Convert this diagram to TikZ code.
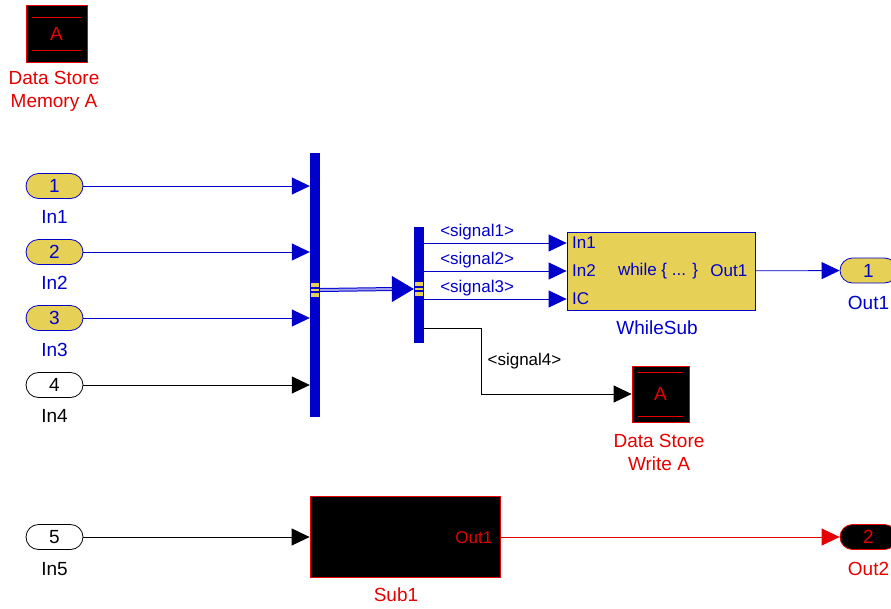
\documentclass[tikz,border=0pt]{standalone}
\usepackage{fontspec}
\setmainfont{Liberation Sans}
\usetikzlibrary{positioning, arrows.meta}
\definecolor{simblue}{HTML}{0000CC}
\definecolor{simyellow}{HTML}{E6D055}
\definecolor{simred}{HTML}{E60000}
\definecolor{busmid}{HTML}{A0A0EC}
\tikzset{
  >={Triangle[length=18pt, width=17pt]},
  every node/.style={font=\fontsize{19}{23}\selectfont, inner sep=0pt},
  port/.style={
    rectangle, rounded corners=12.5pt, line width=0.8pt,
    minimum width=57pt, minimum height=25pt
  },
  inport/.style={port, draw=simblue, fill=simyellow, text=simblue},
  plainport/.style={port, draw=black, fill=white},
  outport/.style={port, draw=simred, fill=black, text=simred},
  busbar/.style={rectangle, fill=simblue, minimum width=10pt},
  busport/.style={
    rectangle, fill=simyellow, minimum width=8pt, minimum height=14pt,
    path picture={
      \draw[simblue, line width=1.2pt]
        ([yshift=2pt]path picture bounding box.west) -- ([yshift=2pt]path picture bounding box.east)
        ([yshift=-2pt]path picture bounding box.west) -- ([yshift=-2pt]path picture bounding box.east);
    }
  },
  dstore/.style={
    rectangle, draw=simred, fill=black, text=simred, line width=0.8pt,
    minimum width=57pt, minimum height=56pt,
    path picture={
      \draw[simred, line width=0.8pt]
        ([xshift=6pt, yshift=-#1]path picture bounding box.north west) -- ([xshift=-6pt, yshift=-#1]path picture bounding box.north east)
        ([xshift=6pt, yshift=#1]path picture bounding box.south west) -- ([xshift=-6pt, yshift=#1]path picture bounding box.south east);
    }
  },
  whileblock/.style={
    rectangle, draw=simblue, fill=simyellow, line width=0.8pt,
    minimum width=188pt, minimum height=78pt
  },
  subblock/.style={
    rectangle, draw=simred, fill=black, line width=0.8pt,
    minimum width=190pt, minimum height=81pt
  },
  porttext/.style={font=\fontsize{17}{20}\selectfont},
  bluelabel/.style={text=simblue, align=center},
  blacklabel/.style={text=black, align=center},
  redlabel/.style={text=simred, align=center},
  sigblue/.style={->, simblue, line width=0.8pt},
  sigblack/.style={->, black, line width=0.8pt},
  sigred/.style={->, simred, line width=0.8pt},
  busline/.style={draw=simblue, double=busmid, double distance=2pt, line width=1pt},
  bustip/.style={-{Triangle[length=22pt, width=26pt]}, simblue, line width=1pt},
  siglabel/.style={font=\fontsize{17}{20}\selectfont}
}

\begin{document}
\begin{tikzpicture}[x=1pt, y=-1pt]
\useasboundingbox (0,0) rectangle (891,608);

% Column and row positions (pixels)
\def\xin{54.5}   % inports
\def\xbc{315}    % bus creator
\def\xbs{419}    % bus selector
\def\xout{868.5} % outports
\def\yA{186} \def\yB{252} \def\yC{318} \def\yD{385} \def\yE{537}
\def\ysa{243} \def\ysb{271} \def\ysc{299} \def\ysd{328}

% Data store memory
\node[dstore=12pt, minimum width=61pt, minimum height=57pt] (dsm) at (56.5,33.5) {A};
\node[redlabel] (dsmlab) at (54,91.5) {Data Store\\Memory A};

% Inports
\node[inport] (in1) at (\xin,\yA) {1};
\node[inport] (in2) at (\xin,\yB) {2};
\node[inport] (in3) at (\xin,\yC) {3};
\node[plainport] (in4) at (\xin,\yD) {4};
\node[plainport] (in5) at (\xin,\yE) {5};
\node[bluelabel] (in1lab) at (\xin,217) {In1};
\node[bluelabel] (in2lab) at (\xin,283) {In2};
\node[bluelabel] (in3lab) at (\xin,350) {In3};
\node[blacklabel] (in4lab) at (\xin,416) {In4};
\node[blacklabel] (in5lab) at (\xin,569) {In5};

% Bus creator and bus selector
\node[busbar, minimum height=264pt] (bc) at (\xbc,285) {};
\node[busport] (bcp) at (\xbc,290) {};
\node[busbar, minimum height=116pt] (bs) at (\xbs,285) {};
\node[busport] (bsp) at (\xbs,289) {};

\draw[sigblue] (in1) -- (in1 -| bc.west);
\draw[sigblue] (in2) -- (in2 -| bc.west);
\draw[sigblue] (in3) -- (in3 -| bc.west);
\draw[sigblack] (in4) -- (in4 -| bc.west);

% Bus between the two bars
\draw[busline] (bc.east |- bcp) -- ([xshift=-20pt]bs.west |- bsp);
\draw[bustip] ([xshift=-22pt]bs.west |- bsp) -- (bs.west |- bsp);

% While subsystem
\node[whileblock] (ws) at (661,271) {};
\node[porttext, text=simblue, anchor=west] (ws1) at (572,\ysa) {In1};
\node[porttext, text=simblue, anchor=west] (ws2) at (572,\ysb) {In2};
\node[porttext, text=simblue, anchor=west] (ws3) at (572,\ysc) {IC};
\node[porttext, text=simblue] (wsbody) at ([xshift=-3pt]ws.center) {while \{ ... \}};
\node[porttext, text=simblue, anchor=east] (wsout) at ([xshift=-8pt]ws.east) {Out1};
\node[bluelabel] (wslab) at (657,328) {WhileSub};

\draw[sigblue] (bs.east |- ws1) -- (ws.west |- ws1)
  node[pos=0.11, anchor=south west, yshift=3pt, siglabel, text=simblue] {<signal1>};
\draw[sigblue] (bs.east |- ws2) -- (ws.west |- ws2)
  node[pos=0.11, anchor=south west, yshift=3pt, siglabel, text=simblue] {<signal2>};
\draw[sigblue] (bs.east |- ws3) -- (ws.west |- ws3)
  node[pos=0.11, anchor=south west, yshift=3pt, siglabel, text=simblue] {<signal3>};

% Outport 1
\node[inport] (out1) at (\xout,270.5) {1};
\node[bluelabel] (out1lab) at (\xout,303) {Out1};
\draw[sigblue] (ws) -- (out1);

% Data store write
\node[dstore=6pt] (dsw) at (660.5,394) {A};
\node[redlabel] (dswlab) at (659,452) {Data Store\\Write A};
\draw[sigblack] (bs.east |- 0,\ysd) -- ++(57,0) |- (dsw.west)
  node[pos=0.25, anchor=west, xshift=6pt, siglabel] {<signal4>};

% Subsystem Sub1 and outport 2
\node[subblock] (sub1) at (405,536.5) {};
\node[porttext, text=simred, anchor=east] (subout) at ([xshift=-8pt, yshift=-1pt]sub1.east) {Out1};
\node[redlabel] (sub1lab) at (396,595) {Sub1};
\node[outport] (out2) at (\xout,\yE) {2};
\node[redlabel] (out2lab) at (\xout,569) {Out2};

\draw[sigblack] (in5) -- (in5 -| sub1.west);
\draw[sigred] (sub1.east |- out2) -- (out2);

\end{tikzpicture}
\end{document}
